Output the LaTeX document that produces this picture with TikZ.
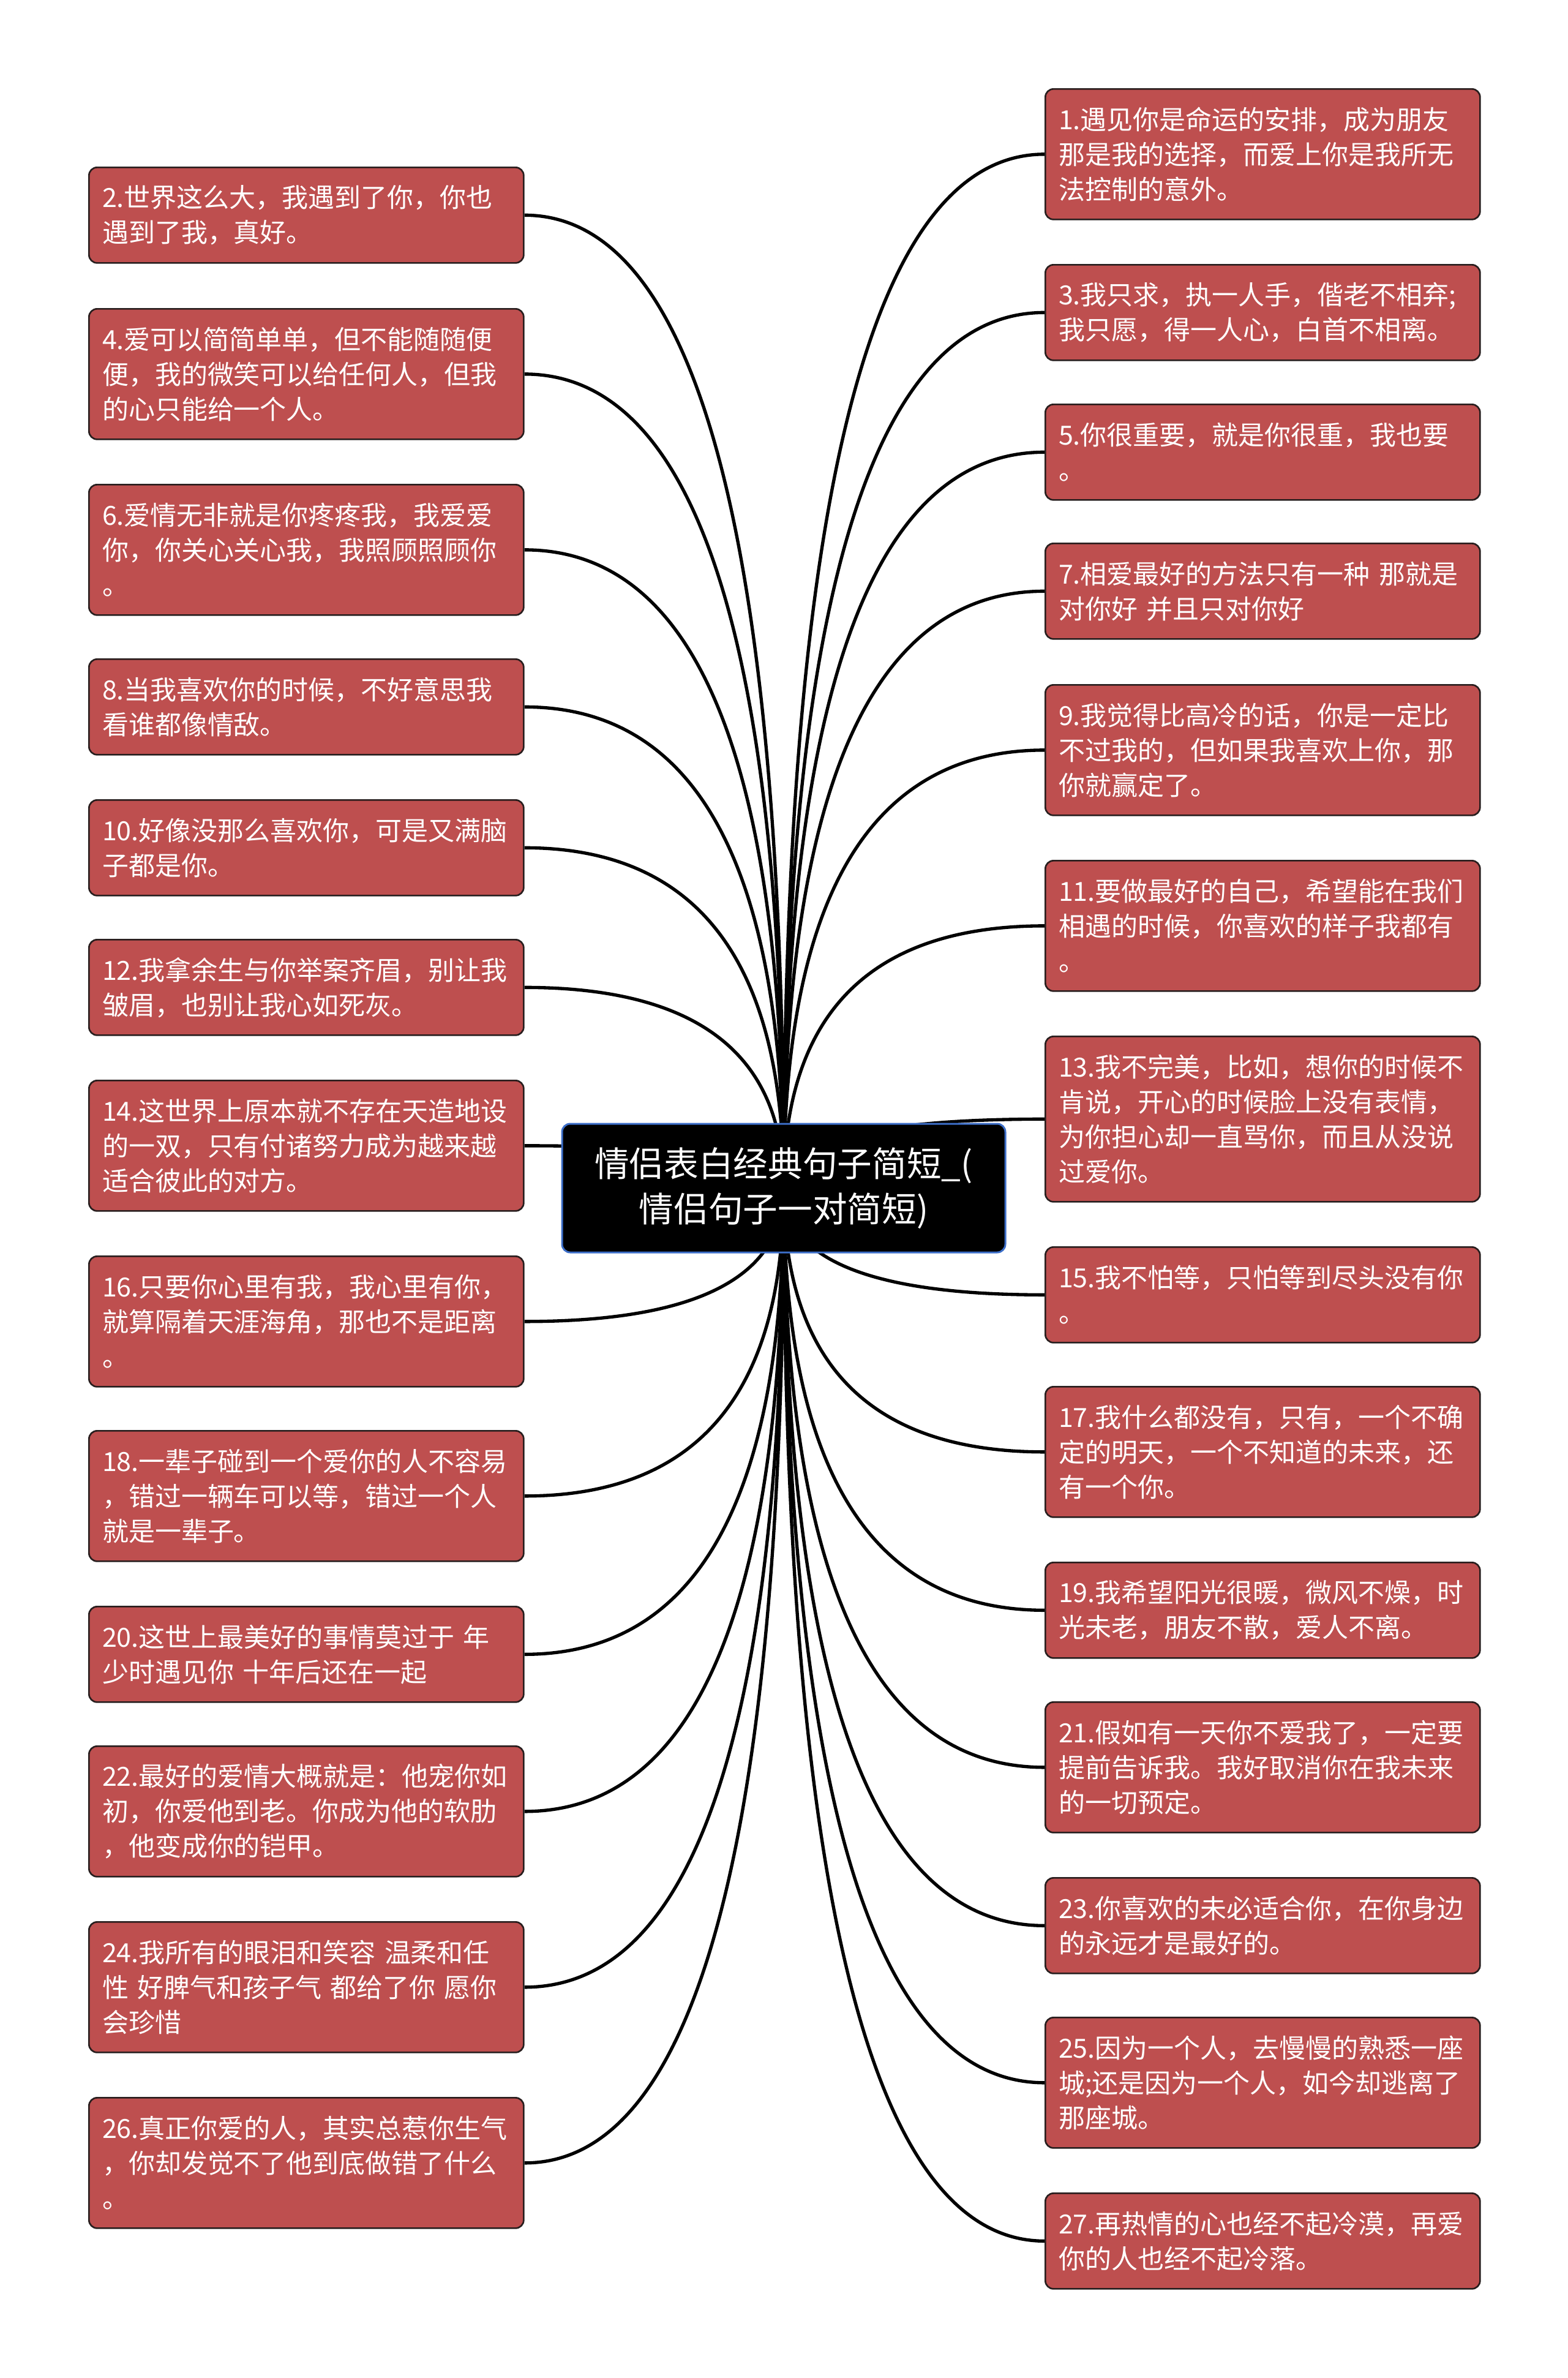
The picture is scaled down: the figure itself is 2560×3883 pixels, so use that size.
\documentclass[tikz,border=0pt]{standalone}
\usepackage{fontspec}
\setmainfont{Noto Sans CJK SC}
\usetikzlibrary{calc}
\pgfdeclarelayer{background}
\pgfsetlayers{background,main}
\definecolor{leaffill}{RGB}{190,79,79}
\definecolor{leafline}{RGB}{40,30,30}
\definecolor{rootline}{RGB}{60,110,200}
\tikzset{
  leaf/.style={draw=leafline, line width=0.8pt, fill=leaffill, rounded corners=4pt,
    anchor=north west, text=white, text width=200pt, inner xsep=6.5pt, inner ysep=0pt,
    align=left, font=\fontsize{12.9pt}{17.1pt}\selectfont},
  ltwo/.style={leaf, minimum height=46.8pt},
  lthree/.style={leaf, minimum height=63.9pt},
  lfour/.style={leaf, minimum height=81pt},
  rootbox/.style={draw=rootline, line width=0.9pt, fill=black, rounded corners=4pt,
    text=white, align=center, minimum width=217.2pt, minimum height=63pt,
    font=\fontsize{17pt}{22.2pt}\selectfont},
  conn/.style={draw=black, line width=1.6pt}
}
\begin{document}
\begin{tikzpicture}[x=0.3pt,y=-0.3pt]
\useasboundingbox (0,0) rectangle (2560,3883);

\node[rootbox] (ctr) at (1280,1940) {情侣表白经典句子简短\_(\\情侣句子一对简短)};

% left column
\node[ltwo]   (b2)  at (144,272)  {2.世界这么大，我遇到了你，你也\\遇到了我，真好。};
\node[lthree] (b4)  at (144,503)  {4.爱可以简简单单，但不能随随便\\便，我的微笑可以给任何人，但我\\的心只能给一个人。};
\node[lthree] (b6)  at (144,790)  {6.爱情无非就是你疼疼我，我爱爱\\你，你关心关心我，我照顾照顾你\\。};
\node[ltwo]   (b8)  at (144,1075) {8.当我喜欢你的时候，不好意思我\\看谁都像情敌。};
\node[ltwo]   (b10) at (144,1305) {10.好像没那么喜欢你，可是又满脑\\子都是你。};
\node[ltwo]   (b12) at (144,1533) {12.我拿余生与你举案齐眉，别让我\\皱眉，也别让我心如死灰。};
\node[lthree] (b14) at (144,1763) {14.这世界上原本就不存在天造地设\\的一双，只有付诸努力成为越来越\\适合彼此的对方。};
\node[lthree] (b16) at (144,2050) {16.只要你心里有我，我心里有你，\\就算隔着天涯海角，那也不是距离\\。};
\node[lthree] (b18) at (144,2335) {18.一辈子碰到一个爱你的人不容易\\，错过一辆车可以等，错过一个人\\就是一辈子。};
\node[ltwo]   (b20) at (144,2622) {20.这世上最美好的事情莫过于~年\\少时遇见你~十年后还在一起};
\node[lthree] (b22) at (144,2850) {22.最好的爱情大概就是：他宠你如\\初，你爱他到老。你成为他的软肋\\，他变成你的铠甲。};
\node[lthree] (b24) at (144,3137) {24.我所有的眼泪和笑容~温柔和任\\性~好脾气和孩子气~都给了你~愿你\\会珍惜};
\node[lthree] (b26) at (144,3424) {26.真正你爱的人，其实总惹你生气\\，你却发觉不了他到底做错了什么\\。};

% right column
\node[lthree] (b1)  at (1706,144)  {1.遇见你是命运的安排，成为朋友\\那是我的选择，而爱上你是我所无\\法控制的意外。};
\node[ltwo]   (b3)  at (1706,431)  {3.我只求，执一人手，偕老不相弃;\\我只愿，得一人心，白首不相离。};
\node[ltwo]   (b5)  at (1706,659)  {5.你很重要，就是你很重，我也要\\。};
\node[ltwo]   (b7)  at (1706,886)  {7.相爱最好的方法只有一种~那就是\\对你好~并且只对你好};
\node[lthree] (b9)  at (1706,1117) {9.我觉得比高冷的话，你是一定比\\不过我的，但如果我喜欢上你，那\\你就赢定了。};
\node[lthree] (b11) at (1706,1404) {11.要做最好的自己，希望能在我们\\相遇的时候，你喜欢的样子我都有\\。};
\node[lfour]  (b13) at (1706,1691) {13.我不完美，比如，想你的时候不\\肯说，开心的时候脸上没有表情，\\为你担心却一直骂你，而且从没说\\过爱你。};
\node[ltwo]   (b15) at (1706,2035) {15.我不怕等，只怕等到尽头没有你\\。};
\node[lthree] (b17) at (1706,2263) {17.我什么都没有，只有，一个不确\\定的明天，一个不知道的未来，还\\有一个你。};
\node[ltwo]   (b19) at (1706,2550) {19.我希望阳光很暖，微风不燥，时\\光未老，朋友不散，爱人不离。};
\node[lthree] (b21) at (1706,2778) {21.假如有一天你不爱我了，一定要\\提前告诉我。我好取消你在我未来\\的一切预定。};
\node[ltwo]   (b23) at (1706,3065) {23.你喜欢的未必适合你，在你身边\\的永远才是最好的。};
\node[lthree] (b25) at (1706,3293) {25.因为一个人，去慢慢的熟悉一座\\城;还是因为一个人，如今却逃离了\\那座城。};
\node[ltwo]   (b27) at (1706,3580) {27.再热情的心也经不起冷漠，再爱\\你的人也经不起冷落。};

\begin{pgfonlayer}{background}
\fill[white] (0,0) rectangle (2560,3883);
\foreach \n in {b2,b4,b6,b8,b10,b12,b14,b16,b18,b20,b22,b24,b26}{
  \draw[conn] (ctr.center) .. controls ($(ctr.center)!0.6667!(ctr.center |- \n.east)$)
    and ($(\n.east)!0.6667!(ctr.center |- \n.east)$) .. (\n.east);
}
\foreach \n in {b1,b3,b5,b7,b9,b11,b13,b15,b17,b19,b21,b23,b25,b27}{
  \draw[conn] (ctr.center) .. controls ($(ctr.center)!0.6667!(ctr.center |- \n.west)$)
    and ($(\n.west)!0.6667!(ctr.center |- \n.west)$) .. (\n.west);
}
\end{pgfonlayer}
\end{tikzpicture}
\end{document}
